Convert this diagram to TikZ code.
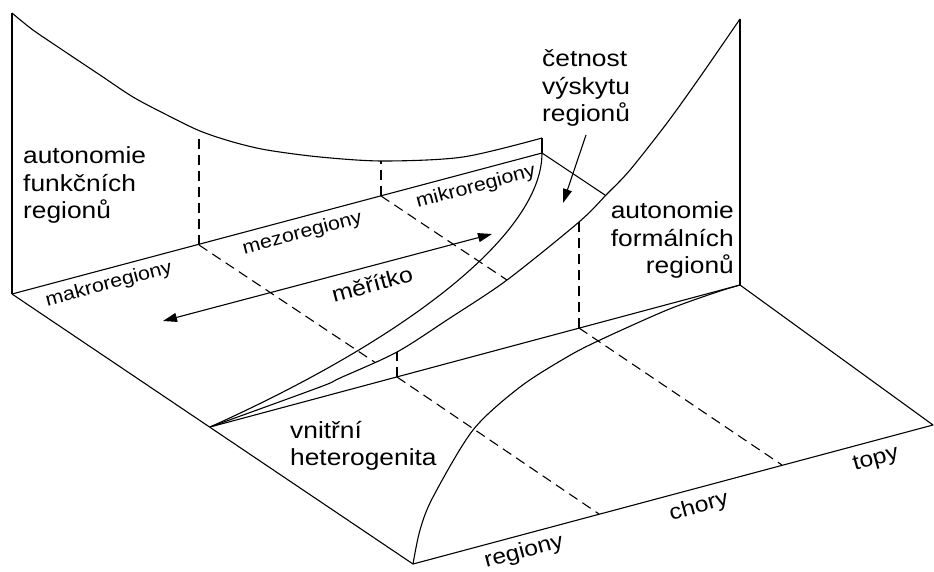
\documentclass[tikz,border=0pt]{standalone}
\usepackage{fontspec}
\setmainfont{Liberation Sans}[FakeStretch=1.13]
\usetikzlibrary{arrows.meta,intersections,calc}
\newcommand\fstrut{\rule{0pt}{20pt}}
\begin{document}
\begin{tikzpicture}[x=1pt,y=-1pt,
  ln/.style={line width=1.1pt, line join=round},
  hid/.style={ln, dash pattern=on 10pt off 6pt},
  lbl/.style={inner sep=0pt, font=\fontsize{23.3}{27.5}\selectfont},
  axl/.style={inner sep=0pt, font=\fontsize{19}{21}\selectfont, rotate=15},
  axf/.style={inner sep=0pt, font=\fontsize{21.8}{24}\selectfont, rotate=15},
  arr/.style={ln, -{Triangle[length=14pt,width=9pt]}},
  darr/.style={ln, {Triangle[length=14pt,width=9pt]}-{Triangle[length=14pt,width=9pt]}}
]
\useasboundingbox (0,0) rectangle (934,571);
% corners
\coordinate (A) at (12,294);
\coordinate (At) at (12,13);
\coordinate (B) at (542,153);
\coordinate (Bt) at (542,138);
\coordinate (V) at (210,427);
\coordinate (C) at (740,285);
\coordinate (Ct) at (740,19);
\coordinate (F) at (413,564);
\coordinate (R) at (933,425);
% division points
\coordinate (D1) at (199,245);
\coordinate (T1) at (199,133);
\coordinate (D2) at (381,196);
\coordinate (T2) at (381,161);
\coordinate (E1) at (397,377);
\coordinate (U1) at (397,352);
\coordinate (E2) at (579,328);
\coordinate (U2) at (579,222);
\coordinate (G1) at (599,514);
\coordinate (G2) at (782,465);
% arrows
\coordinate (M1) at (163,321);
\coordinate (M2) at (492,234);
\coordinate (Q1) at (586,135);
\coordinate (Q2) at (563,203);

% left wall
\draw[ln] (A) -- (At);
\draw[ln] plot[smooth] coordinates {(At) (33,30) (67,53) (100,75) (133,97) (167,115) (200,131) (233,142) (267,150) (320,157) (383,161) (463,157) (Bt)};
\draw[ln] (Bt) -- (B);
\draw[ln] (A) -- (B);
% floor outline
\draw[ln] (A) -- (F) -- (R) -- (C);
\draw[ln] (V) -- (C);
% curves from V
\draw[ln] (V) .. controls (410,337) and (542,233) .. (B);
\draw[ln, name path=c2] plot[smooth] coordinates {(V) (320,387) (340,378) (397,352) (450,318) (507,280) (579,222) (607,194) (630,170) (667,123) (700,77) (Ct)};
\draw[ln] (C) -- (Ct);
% curve on front floor
\draw[ln] plot[smooth] coordinates {(F) (420,530) (433,497) (473,430) (520,387) (567,357) (600,340) (667,310) (717,292) (C)};
% hidden parts
\path[name path=l1] (D1) -- (E1);
\path[name path=l2] (D2) -- (E2);
\path[name path=l3] (B) -- (C);
\path[name intersections={of=c2 and l1, by={X1}}];
\path[name intersections={of=c2 and l2, by={X2}}];
\path[name intersections={of=c2 and l3, by={X3}}];
\draw[ln] (B) -- (X3);
\draw[hid] (D1) -- (T1);
\draw[hid] (D2) -- (T2);
\draw[hid] (D1) -- (X1);
\draw[hid] (D2) -- (X2);
\draw[hid] (E1) -- (U1);
\draw[hid] (E2) -- (U2);
\draw[hid] (E1) -- (G1);
\draw[hid] (E2) -- (G2);
% arrows
\draw[darr] (M1) -- (M2);
\draw[arr] (Q1) -- (Q2);
% labels
\node[lbl, anchor=north west, align=left] (tFun) at (23,143.3) {\fstrut autonomie\\funkčních\\regionů};
\node[lbl, anchor=north east, align=right] (tFor) at (734,198.3) {\fstrut autonomie\\formálních\\regionů};
\node[lbl, anchor=north west, align=left] (tCet) at (542,46.7) {\fstrut četnost\\výskytu\\regionů};
\node[lbl, anchor=north west, align=left] (tVni) at (290,418) {\fstrut vnitřní\\heterogenita};
\node[axl] (tMak) at (109,284.5) {makroregiony};
\node[axl] (tMez) at (302.5,233.5) {mezoregiony};
\node[axl] (tMik) at (476,187) {mikroregiony};
\node[axf, font=\fontsize{22}{24}\selectfont] (tMer) at (372,284) {měřítko};
\node[axf] (tReg) at (524,552) {regiony};
\node[axf] (tCho) at (699,507) {chory};
\node[axf] (tTop) at (876,460) {topy};
\end{tikzpicture}
\end{document}
